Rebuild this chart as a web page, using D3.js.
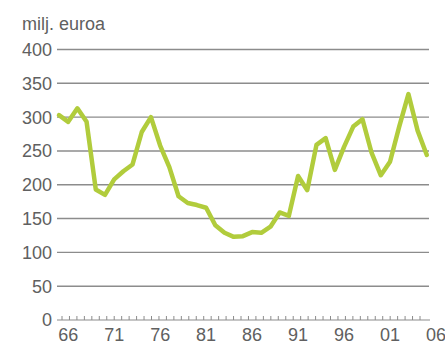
<!DOCTYPE html>
<html>
<head>
<meta charset="utf-8">
<script src="https://cdn.jsdelivr.net/npm/d3@7/dist/d3.min.js"></script>
<style>
  html, body { margin: 0; padding: 0; background: #fff; }
  svg { display: block; }
  text { font-family: "Liberation Sans", Arial, sans-serif; fill: #606060; }
</style>
</head>
<body>
<svg id="chart" width="445" height="344"></svg>
<script>
// Annual values, million euros
const years = d3.range(1965, 2006);
const values = [
  303, 293, 313, 293, 193, 185, 208, 220, 230, 278,
  300, 258, 226, 183, 173, 170, 166, 140, 129, 123,
  124, 130, 129, 138, 159, 154, 213, 192, 259, 269,
  222, 256, 286, 297, 247, 214, 234, 286, 334, 280,
  244
];
const yTicks = [0, 50, 100, 150, 200, 250, 300, 350, 400];
const xLabels = [1966, 1971, 1976, 1981, 1986, 1991, 1996, 2001, 2006];
const unitLabel = "milj. euroa";

const svg = d3.select("#chart");
const plotLeft = 57, plotRight = 429, plotTop = 49.5, plotBottom = 320;

const x = d3.scaleLinear().domain([1965, 2006]).range([59, 436]);
const y = d3.scaleLinear().domain([0, 400]).range([plotBottom, plotTop]);

// Horizontal gridlines with value labels
const grid = svg.append("g");
grid.selectAll("line")
  .data(yTicks.filter(d => d > 0))
  .join("line")
  .attr("x1", plotLeft).attr("x2", plotRight)
  .attr("y1", d => y(d)).attr("y2", d => y(d))
  .attr("stroke", "#8c8c8c").attr("stroke-width", 1.4);

grid.selectAll("text")
  .data(yTicks)
  .join("text")
  .attr("x", 52).attr("y", d => y(d))
  .attr("dy", "0.36em")
  .attr("text-anchor", "end")
  .attr("font-size", 18)
  .text(d => d);

// Baseline with small tick marks
svg.append("line")
  .attr("x1", plotLeft).attr("x2", 430)
  .attr("y1", plotBottom).attr("y2", plotBottom)
  .attr("stroke", "#8c8c8c").attr("stroke-width", 1.2);

const tickScale = d3.scaleLinear().domain([0, 48]).range([62, 420]);
svg.append("g").selectAll("line")
  .data(d3.range(49))
  .join("line")
  .attr("x1", d => tickScale(d)).attr("x2", d => tickScale(d))
  .attr("y1", plotBottom).attr("y2", plotBottom - 4)
  .attr("stroke", "#8c8c8c").attr("stroke-width", 1);

svg.append("g").selectAll("text")
  .data(xLabels)
  .join("text")
  .attr("x", d => x(d))
  .attr("y", 341)
  .attr("text-anchor", "middle")
  .attr("font-size", 18)
  .text(d => String(d % 100).padStart(2, "0"));

svg.append("text")
  .attr("x", 22).attr("y", 30)
  .attr("font-size", 18)
  .text(unitLabel);

// Data line
const line = d3.line()
  .x((d, i) => x(years[i]))
  .y(d => y(d));

svg.append("path")
  .datum(values)
  .attr("d", line)
  .attr("fill", "none")
  .attr("stroke", "#b1cc3c")
  .attr("stroke-width", 4.5)
  .attr("stroke-linejoin", "round")
  .attr("stroke-linecap", "round");
</script>
</body>
</html>
